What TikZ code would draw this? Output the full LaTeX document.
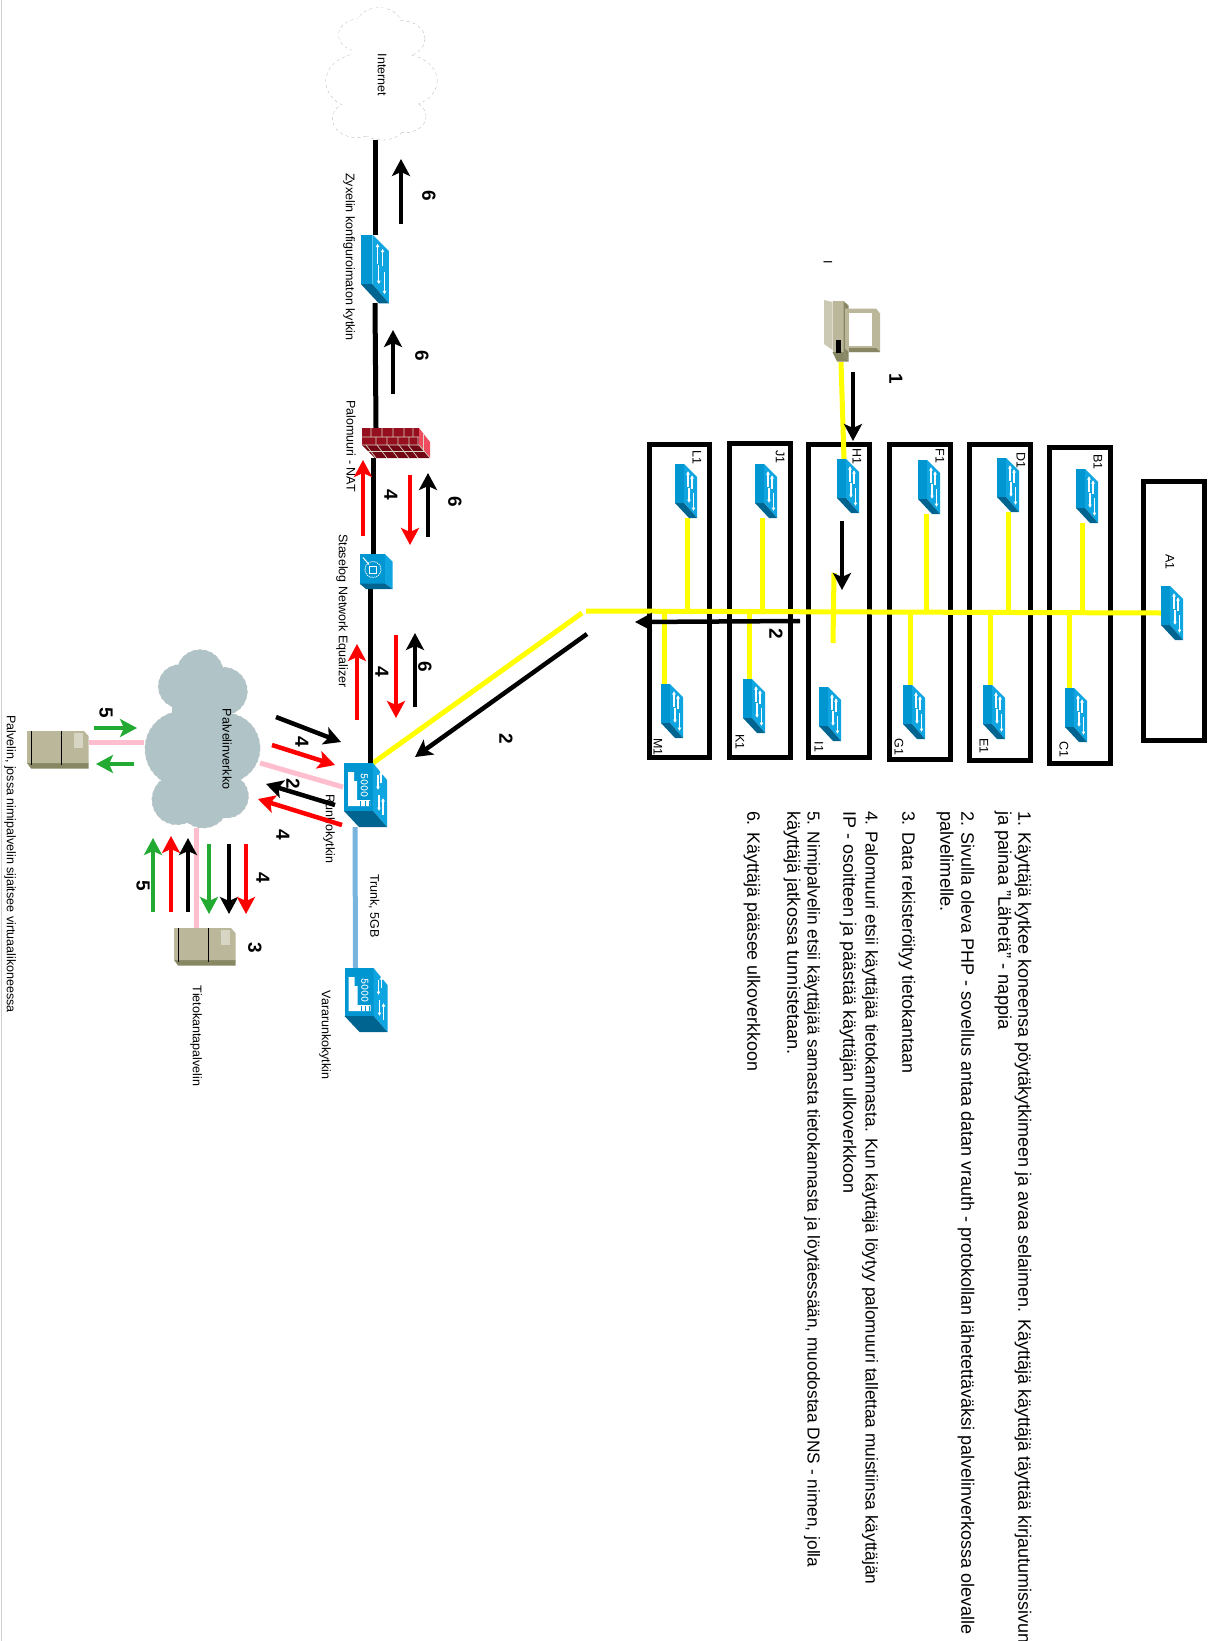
\documentclass[tikz,border=0pt]{standalone}
\usepackage{fontspec}
\setmainfont{Liberation Sans}
\usetikzlibrary{arrows.meta}
\definecolor{swmid}{RGB}{0,150,210}
\definecolor{swlight}{RGB}{15,165,225}
\definecolor{swdark}{RGB}{0,100,145}
\definecolor{srvbody}{RGB}{186,183,155}
\definecolor{srvdark}{RGB}{135,135,100}
\definecolor{srvlight}{RGB}{215,213,195}
\definecolor{brick}{RGB}{150,15,30}
\definecolor{brickdark}{RGB}{115,5,20}
\definecolor{brickpink}{RGB}{240,75,95}
\definecolor{cloudgray}{RGB}{176,196,200}
\definecolor{pinklink}{RGB}{255,190,205}
\definecolor{trunkblue}{RGB}{120,180,222}
\definecolor{flowgreen}{RGB}{34,170,50}
\definecolor{linkyellow}{RGB}{255,255,0}
\tikzset{
  hit/.style={inner sep=0,outer sep=0},
  netbox/.style={draw,line width=5pt,hit},
  ylink/.style={linkyellow,line width=5pt},
  klink/.style={black,line width=5pt},
  plink/.style={pinklink,line width=5pt},
  flow/.style={line width=4.5pt,-{Stealth[length=17pt,width=18pt,inset=4pt]}},
  tag/.style={rotate=-90,hit,font=\fontsize{12.5}{14}\selectfont},
  stepno/.style={rotate=-90,hit,font=\fontsize{19}{20}\selectfont\bfseries},
  stepline/.style={rotate=-90,hit,anchor=west},
  whitearrow/.style={white,line width=1.2pt,-{Latex[length=3.5pt,width=4pt]}},
  pics/smallswitch/.style={code={
    \fill[swmid] (-11,-27)--(-2,-27)--(-2,12)--(-11,12)--cycle;
    \fill[swlight] (-2,-27)--(11,-14)--(11,27)--(-2,12)--cycle;
    \fill[swdark] (-11,12)--(-2,12)--(11,27)--(3,27)--cycle;
    \draw[whitearrow] (2,-4)--(2,-20);\draw[whitearrow] (6,-2)--(6,-16);
    \draw[whitearrow] (3,-3)--(3,12);\draw[whitearrow] (7.5,2)--(7.5,20);
  }},
  pics/bigswitch/.style={code={
    \fill[swmid] (-21,-32)--(8,-32)--(8,16)--(-21,16)--cycle;
    \fill[swlight] (8,-32)--(22,-15)--(22,32)--(8,16)--cycle;
    \fill[swdark] (-21,16)--(8,16)--(22,32)--(-6,32)--cycle;
    \fill[white] (-17,-23)--(-11,-23)--(-11,-14)--(-8,-14)--(-8,5)--(5,5)--(5,11)--(-17,11)--cycle;
    \foreach \c in {-5,-.5,3.5}{\fill[swmid] (\c,5.5) rectangle (\c+.6,11);}
    \node[rotate=-90,hit,white,font=\fontsize{11.5}{12}\ttfamily\bfseries] (-num) at (-.5,-9.5) {5000};
    \draw[whitearrow] (13,-20)--(13,-5);\draw[whitearrow] (16,-12)--(16,-24);
    \draw[whitearrow] (14,0)--(14,16);\draw[whitearrow] (18,20)--(18,3);
  }},
  pics/firewall/.style={code={
    \fill[brick] (-34,-15) rectangle (23,2);
    \fill[brickpink] (23,-15)--(34,-1)--(34,15)--(23,2)--cycle;
    \fill[brickdark] (-34,2)--(23,2)--(34,15)--(-21,15)--cycle;
    \draw[srvlight,line width=.7pt] (-34,-6)--(23,-6) (-34,2)--(23,2)--(34,15);
    \foreach \c in {-25,-14,-3,8,17}{\draw[srvlight,line width=.7pt] (\c,-15)--(\c,-6) (\c+5,-6)--(\c+5,2) (\c-5,2)--(\c+5,15);}
    \draw[srvlight,line width=.7pt] (-28,8)--(29,8) (27,-9)--(27,8);
  }},
  pics/equalizer/.style={code={
    \fill[swmid] (-16.5,-17.5)--(9,-17.5)--(9,12)--(-16.5,12)--cycle;
    \fill[swlight] (9,-17.5)--(16.5,-10)--(16.5,17.5)--(9,12)--cycle;
    \fill[swdark] (-16.5,12)--(9,12)--(16.5,17.5)--(-10,17.5)--cycle;
    \draw[white,line width=1pt] (-13,-14)--(-7,-7);
    \draw[white,line width=1pt,densely dotted] (-3,-2) circle [radius=8];
    \draw[white,line width=1pt] (-6.5,-5.5) rectangle (.5,1.5);
  }},
  pics/server/.style={code={
    \fill[srvdark] (-31,13)--(26,13)--(30.5,13)--(30.5,18.5)--(-27,18.5)--cycle;
    \fill[srvbody] (-31,-19)--(26,-19)--(30.5,-14)--(30.5,13)--(-31,13)--cycle;
    \fill[srvlight] (16,-17.5) rectangle (24.5,-2);
    \draw[black,line width=1pt] (-26.5,-19)--(-26.5,15) (3.5,-19)--(3.5,15);
  }},
  pics/desktop/.style={code={
    \fill[srvlight!60!srvbody] (-28,-31)--(-19.5,-29)--(-19.5,19)--(-28,13)--cycle;
    \fill[srvbody] (-19.5,-30)--(-8.5,-30)--(-8.5,21)--(-19.5,21)--cycle;
    \fill[srvdark] (-8.5,-30)--(-3.5,-25.5)--(-3.5,30.5)--(-8.5,21)--cycle;
    \fill[srvdark] (-19.5,21)--(-8.5,21)--(-3.5,30.5)--(-15,30.5)--cycle;
    \fill[black] (-16.5,8.5) rectangle (-11.5,22);
    \fill[srvbody] (-7,-22.5)--(24,-22.5)--(28,-17.5)--(28,21)--(-3,21)--(-7,17.5)--cycle;
    \fill[srvdark] (-3,17)--(24,17)--(28,21)--(-3,21)--cycle;
    \fill[white] (-3.5,-18.5) rectangle (19.5,14.5);
  }},
  pics/netcloud/.style 2 args={code={
    \foreach \a/\b/\r in {-2/-66/23.3,-22/-52.7/21.7,21.3/-47.7/24,-19/10/38,23/9/35,-25/60.7/25,1.3/64/25,24.7/57.3/21.7}{
      \draw[#2,dashed,line width=.7pt] (\a,\b) circle [radius=\r];}
    \foreach \a/\b/\r in {-2/-66/23.3,-22/-52.7/21.7,21.3/-47.7/24,-19/10/38,23/9/35,-25/60.7/25,1.3/64/25,24.7/57.3/21.7,0/-30/30,0/42/36}{
      \fill[#1] (\a,\b) circle [radius=\r];}
  }},
}
\begin{document}
\begin{tikzpicture}[x=1pt,y=-1pt]
\useasboundingbox (0,0) rectangle (1216,1641);
\draw[black!18] (1.5,0)--(1.5,1641);
\foreach \n/\x/\y/\w/\h in {lbox/679.5/601/60/313,jbox/760/600.5/61/314,hbox/839/601/61/313,fbox/920/602/61/315,dbox/1000/602.5/61/316,bbox/1080/605.5/61/316,abox/1174/611/61/259}{
  \node[netbox,minimum width=\w,minimum height=\h] (\n) at (\x,\y) {};}
\foreach \n/\x/\y in {l1/686/491,j1/766/491,h1/848/486,f1/929/487,d1/1008/485,b1/1087/496,a1/1172/613,m1/672/711,k1/754/706,i1/830/714,g1/914/712,e1/994/712,c1/1076/715}{
  \node[hit,minimum width=22,minimum height=54] (\n) at (\x,\y) {};}
\node[hit,minimum width=28,minimum height=68] (zyxel) at (375,269) {};
\node[hit,minimum width=68,minimum height=30] (fwall) at (396,443) {};
\node[hit,minimum width=33,minimum height=35] (equal) at (376,571.5) {};
\node[hit,minimum width=44,minimum height=64] (runko) at (365,795) {};
\node[hit,minimum width=44,minimum height=64] (varar) at (365.5,1000) {};
\node[hit,minimum width=56,minimum height=62] (kone) at (852,331) {};
\node[hit,minimum width=62,minimum height=38] (nimi) at (58,750) {};
\node[hit,minimum width=62,minimum height=38] (tkanta) at (205,947) {};
\node[hit,minimum width=112,minimum height=132] (inet) at (381,74) {};
\node[hit,minimum width=116,minimum height=178] (pverkko) at (202,739) {};
\coordinate (bbw) at (586,611);
\coordinate (bbd) at (582,613);
\coordinate (stubt) at (834,573);
\coordinate (stubb) at (833,643);
\draw[ylink] (bbw)--(a1.west);
\draw[ylink] (bbd)--([xshift=8pt]runko.north);
\draw[ylink] (stubt)--(stubb);
\draw[ylink] ([xshift=-11pt]kone.south)--([xshift=-4pt]h1.north);
\foreach \n/\d in {l1/1,j1/-4,f1/-3,d1/0,b1/-5}{
  \draw[ylink] ([xshift=\d pt]\n.south)--([xshift=\d pt]\n.south |- bbw);}
\foreach \n/\d in {m1/-8,k1/-5,g1/-4,e1/-4,c1/-7}{
  \draw[ylink] ([xshift=\d pt]\n.north)--([xshift=\d pt]\n.north |- bbw);}
\draw[klink] ([xshift=-6pt]inet.south)--(zyxel.north);
\draw[klink] (zyxel.south)--([xshift=-20pt]fwall.north);
\draw[klink] ([xshift=-23pt]fwall.south)--([xshift=-3pt]equal.north);
\draw[klink] ([xshift=-6pt]equal.south)--([xshift=5pt]runko.north);
\draw[plink] ([yshift=8pt]runko.west)--([yshift=-24pt]pverkko.east);
\draw[plink] ([yshift=8pt]nimi.east)--([yshift=-3pt]pverkko.west);
\draw[plink] ([xshift=-6pt]pverkko.south)--([xshift=-9pt]tkanta.north);
\draw[trunkblue,line width=5pt] ([xshift=-10pt]runko.south)--([xshift=-10pt]varar.north);
\foreach \n in {l1,j1,h1,f1,d1,b1,a1,m1,k1,i1,g1,e1,c1}{\pic (\n icon) at (\n) {smallswitch};}
\pic[scale=1.27] (zyxelicon) at (zyxel) {smallswitch};
\pic (fwallicon) at (fwall) {firewall};
\pic (equalicon) at (equal) {equalizer};
\pic (runkoicon) at (runko) {bigswitch};
\pic (vararicon) at (varar) {bigswitch};
\pic (koneicon) at (kone) {desktop};
\pic (nimiicon) at (nimi) {server};
\pic (tkantaicon) at (tkanta) {server};
\pic[xscale=.966,yscale=.74] (ineticon) at (inet) {netcloud={white}{black!35}};
\pic (pverkkoicon) at (pverkko) {netcloud={cloudgray}{black!25}};
\foreach \n/\x/\y/\t in {ll/697/457/L1,lj/780/457/J1,lh/857/456/H1,lf/940/456/F1,ld/1021/460/D1,lb/1098/462/B1,la/1170/562/A1,lm/658/747/M1,lk/740/742/K1,li/819/747/I1,lg/899/747/G1,le/984/746/E1,lc/1064/749/C1,lpc/828/262/I,linet/382/75/Internet,lzyx/349/257/{Zyxelin konfiguroimaton kytkin},lfw/351/446/{Palomuuri - NAT},leq/342/611/{Staselog Network Equalizer},lrun/329/829/Runkokytkin,ltr/374/906/{Trunk, 5GB},lvar/325/1035/Vararunkokytkin,ltk/196/1036/Tietokantapalvelin,lpv/227/749/Palvelinverkko,lnimi/10/864/{Palvelin, jossa nimipalvelin sijaitsee virtuaalikoneessa}}{
  \node[tag] (\n) at (\x,\y) {\t};}
\foreach \i/\x/\s/\t in {a/1023/18/{1. Käyttäjä kytkee koneensa pöytäkytkimeen ja avaa selaimen. Käyttäjä käyttäjä täyttää kirjautumissivun},b/1003/18.3/{ja painaa "Lähetä" - nappia},c/966/18/{2. Sivulla oleva PHP - sovellus antaa datan vrauth - protokollan lähetettäväksi palvelinverkossa olevalle},d/945/18.3/{palvelimelle.},e/907/17.9/{3. Data rekisteröityy tietokantaan},f/870/17.3/{4. Palomuuri etsii käyttäjää tietokannasta. Kun käyttäjä löytyy palomuuri tallettaa muistiinsa käyttäjän},g/848/18/{IP - osoitteen ja päästää käyttäjän ulkoverkkoon},h/812/17.3/{5. Nimipalvelin etsii käyttäjää samasta tietokannasta ja löytäessään, muodostaa DNS - nimen, jolla},i/792/18.2/{käyttäjä jatkossa tunnistetaan.},j/752/17.9/{6. Käyttäjä pääsee ulkoverkkoon}}{
  \node[stepline,font=\fontsize{\s}{20}\selectfont] (txt\i) at (\x,811) {\t};}
\foreach \i/\ax/\ay/\bx/\by/\c in {1/401/224/401/159/black,2/393/394/393/330/black,3/853/372/853/441/black,4/842/521/842/590/black,5/800/621/635/622/black,6/363/536/363/460/red,7/410/475/410/545/red,8/428/537/428/473/black,9/357/720/357/644/red,10/396/635/396/718/red,11/415/707/415/633/black,12/587/634/415/757/black,13/276/717/341/742/black,14/272/745/335/765/red,15/335/805/266/784/black,16/342/825/258/799/red,17/94/728/137/728/flowgreen,18/134/764/96/764/flowgreen,19/153/912/153/838/flowgreen,20/171/912/171/836/red,21/188/912/188/838/black,22/209/844/209/914/flowgreen,23/229/844/229/914/black,24/246/844/246/914/red}{
  \coordinate (fs\i) at (\ax,\ay);\coordinate (fe\i) at (\bx,\by);
  \draw[flow,\c] (fs\i)--(fe\i);}
\foreach \i/\x/\y/\t in {1/429/196/6,2/422/356/6,3/896/379/1,4/776/634/2,5/506/739/2,6/391/495/4,7/455/502/6,8/382/672/4,9/425/667/6,10/302/742/4,11/293/784/2,12/283/835/4,13/106/713/5,14/143/886/5,15/263/878/4,16/255/948/3}{
  \node[stepno] (no\i) at (\x,\y) {\t};}
\end{tikzpicture}
\end{document}
